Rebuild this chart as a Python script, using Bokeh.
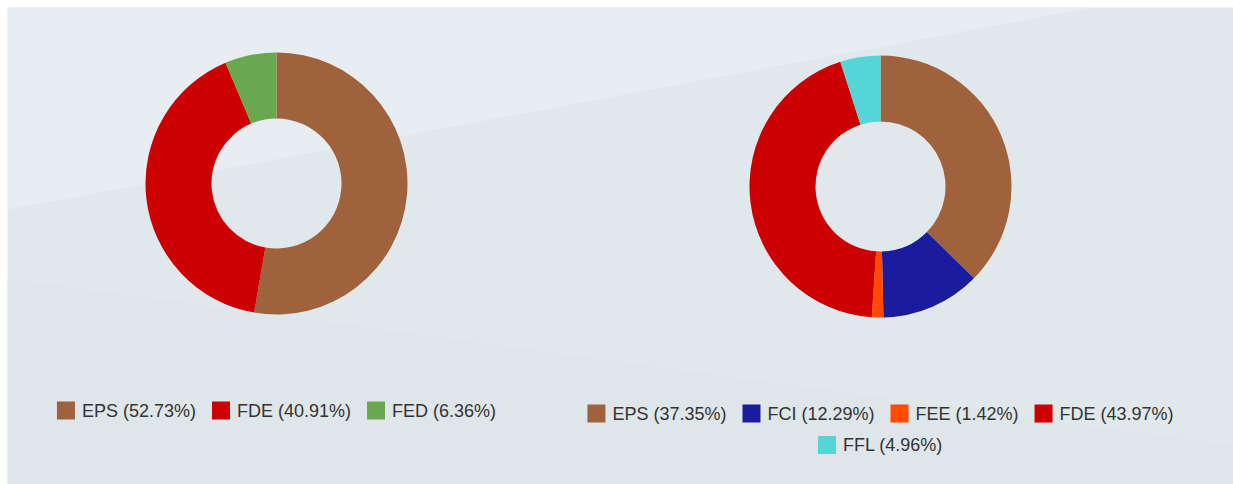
import math
from bokeh.plotting import figure
from bokeh.models import Range1d, ColumnDataSource
from bokeh.core.properties import value
from bokeh.embed import file_html
from bokeh.resources import INLINE

# ---------------- data ----------------
left_labels = ["EPS", "FDE", "FED"]
left_values = [52.73, 40.91, 6.36]
left_colors = ["#a0623c", "#cc0000", "#6aa84f"]

right_labels = ["EPS", "FCI", "FEE", "FDE", "FFL"]
right_values = [37.35, 12.29, 1.42, 43.97, 4.96]
right_colors = ["#a0623c", "#1b1b9e", "#ff4a00", "#cc0000", "#56d5d6"]

# ---------------- layout ----------------
W, H = 1233, 484
OUTER_R, INNER_R = 131, 65
FONT = "Liberation Sans"
FONT_PX = 18
SQ = 18
SQ_GAP = 7
ITEM_GAP = 16
ROW_H = 31.5
MAX_ROW_W = 600

# Arial / Liberation Sans advance widths (per 1000 em)
CW = {"E": 667, "P": 667, "S": 667, "F": 611, "D": 722, "C": 722, "I": 278,
      "L": 556, " ": 278, "(": 333, ")": 333, ".": 278, "%": 889}
for d in "0123456789":
    CW[d] = 556


def text_w(s):
    return sum(CW.get(c, 556) for c in s) * FONT_PX / 1000.0


def py(y_page):
    return H - y_page


def px(x_page):
    return x_page


p = figure(width=W, height=H, x_range=Range1d(0, W), y_range=Range1d(0, H),
           output_backend="svg", toolbar_location=None, min_border=0)
p.axis.visible = False
p.grid.visible = False
p.outline_line_color = None
p.background_fill_color = "#ffffff"
p.border_fill_color = "#ffffff"

# background shapes
p.patch([px(7), px(W + 2), px(W + 2), px(7)], [py(7), py(7), py(H + 2), py(H + 2)],
        fill_color="#e1e8ec", line_color=None)
p.patch([px(7), px(1091), px(7)], [py(7), py(7), py(209)],
        fill_color="#e8edf1", line_color=None)
p.patch([px(7), px(W + 2), px(W + 2), px(7)], [py(278), py(445), py(H + 2), py(H + 2)],
        fill_color="#dfe6e9", line_color=None)


def donut(cx_page, cy_page, labels, values, colors):
    total = sum(values)
    starts, ends = [], []
    acc = 0.0
    for v in values:
        a0 = acc / total
        acc += v
        a1 = acc / total
        starts.append(math.pi / 2 - 2 * math.pi * a1)
        ends.append(math.pi / 2 - 2 * math.pi * a0)
    src = ColumnDataSource(dict(x=[px(cx_page)] * len(values), y=[py(cy_page)] * len(values),
                                s=starts, e=ends, c=colors))
    p.annular_wedge(x="x", y="y", inner_radius=INNER_R, outer_radius=OUTER_R,
                    start_angle="s", end_angle="e", direction="anticlock",
                    fill_color="c", line_color=None, source=src)

    # legend
    texts = [f"{l} ({v:.2f}%)" for l, v in zip(labels, values)]
    widths = [SQ + SQ_GAP + text_w(t) for t in texts]
    rows, cur, cur_w = [], [], 0
    for i, w in enumerate(widths):
        add = w if not cur else w + ITEM_GAP
        if cur and cur_w + add > MAX_ROW_W:
            rows.append((cur, cur_w))
            cur, cur_w = [i], w
        else:
            cur.append(i)
            cur_w += add
    rows.append((cur, cur_w))

    sx, sy, sc, tx, ty, tt = [], [], [], [], [], []
    for r, (idxs, rw) in enumerate(rows):
        x = cx_page - rw / 2
        y = cy_page + 227 + r * ROW_H
        for i in idxs:
            sx.append(px(x + SQ / 2))
            sy.append(py(y))
            sc.append(colors[i])
            tx.append(px(x + SQ + SQ_GAP))
            ty.append(py(y))
            tt.append(texts[i])
            x += widths[i] + ITEM_GAP
    p.rect(x=sx, y=sy, width=SQ, height=SQ, fill_color=sc, line_color=None)
    p.text(x=tx, y=ty, text=tt, text_font=value(FONT), text_font_size=f"{FONT_PX}px",
           text_color="#333333", text_baseline="middle", text_align="left")


donut(276, 183, left_labels, left_values, left_colors)
donut(880, 186, right_labels, right_values, right_colors)

open("out.html", "w").write(file_html(p, INLINE))
